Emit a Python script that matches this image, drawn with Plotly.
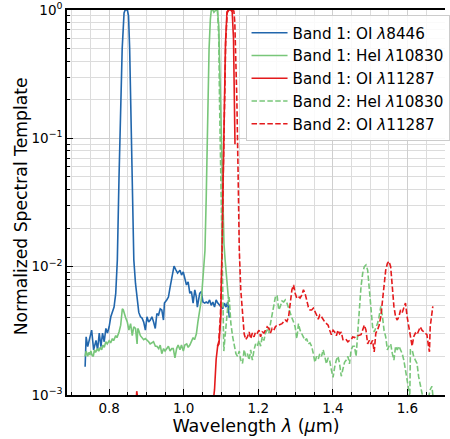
import plotly.graph_objects as go

# ---------------- data (wavelength in micron, normalized template) ----------------
lam_b1_oi8446 = [0.7356, 0.7383, 0.7425, 0.747, 0.7531, 0.7584, 0.7648, 0.769, 0.7735, 0.778,
                 0.7823, 0.7868, 0.7913, 0.7955, 0.8, 0.8045, 0.8087, 0.8132, 0.8177, 0.822,
                 0.8265, 0.831, 0.835, 0.840, 0.843, 0.849, 0.852, 0.855, 0.8575, 0.861,
                 0.8644, 0.8662, 0.8707, 0.8768, 0.8795, 0.884, 0.8882, 0.8927, 0.8972, 0.9015,
                 0.906, 0.9105, 0.9147, 0.9192, 0.9237, 0.928, 0.9325, 0.937, 0.9412, 0.9457,
                 0.9483, 0.9544, 0.959, 0.9634, 0.9677, 0.974, 0.9793, 0.9836, 0.99, 0.9942,
                 0.9987, 1.0032, 1.0074, 1.0119, 1.0164, 1.0207, 1.0252, 1.0297, 1.0339, 1.0366,
                 1.0429, 1.0472, 1.0517, 1.0562, 1.0604, 1.0649, 1.0694, 1.0737, 1.0781, 1.0826,
                 1.0869, 1.0914, 1.0959, 1.1001, 1.1046, 1.1091, 1.1134, 1.1179, 1.1224]
val_b1_oi8446 = [1.66e-3, 2.84e-3, 2.38e-3, 2.66e-3, 3.2e-3, 2.25e-3, 2.66e-3, 2.25e-3, 3.04e-3, 2.38e-3,
                 3.04e-3, 2.6e-3, 3.3e-3, 3.04e-3, 3.4e-3, 4.07e-3, 4.4e-3, 4.84e-3, 6.2e-3, 0.0113,
                 0.05, 0.2, 0.5, 0.95, 1.0, 1.0, 0.9, 0.5, 0.2, 0.07,
                 0.0135, 0.0113, 7.4e-3, 5.2e-3, 4.4e-3, 4.07e-3, 3.98e-3, 3.7e-3, 3.2e-3, 4.07e-3,
                 3.7e-3, 3.84e-3, 4.07e-3, 3.7e-3, 3.3e-3, 4.3e-3, 4.2e-3, 4.7e-3, 4.6e-3, 3.84e-3,
                 5.2e-3, 5.5e-3, 5.8e-3, 6.9e-3, 8.3e-3, 0.0101, 9.4e-3, 8.9e-3, 9.4e-3, 8.6e-3,
                 9.1e-3, 7.9e-3, 7.2e-3, 7.6e-3, 6.2e-3, 6.4e-3, 5.2e-3, 6.6e-3, 5.8e-3, 4.84e-3,
                 6.2e-3, 6.4e-3, 5.3e-3, 5.2e-3, 5.3e-3, 5.2e-3, 5.5e-3, 5.0e-3, 5.3e-3, 4.84e-3,
                 5.5e-3, 5.2e-3, 5.0e-3, 4.84e-3, 4.7e-3, 5.2e-3, 4.84e-3, 5.3e-3, 4.0e-3]

lam_b1_hei10830 = [0.7356, 0.7383, 0.7425, 0.7455, 0.748, 0.751, 0.754, 0.7575, 0.7605, 0.7635,
                   0.769, 0.772, 0.7765, 0.780, 0.7835, 0.787, 0.791, 0.795, 0.800, 0.804,
                   0.8087, 0.812, 0.8177, 0.821, 0.8265, 0.831, 0.8354, 0.838, 0.8443, 0.8487,
                   0.853, 0.8575, 0.862, 0.866, 0.8707, 0.875, 0.8768, 0.879, 0.8838, 0.888,
                   0.8927, 0.897, 0.901, 0.906, 0.910, 0.915, 0.919, 0.924, 0.928, 0.933,
                   0.937, 0.9412, 0.946, 0.950, 0.955, 0.959, 0.9634, 0.968, 0.972, 0.9765,
                   0.981, 0.985, 0.990, 0.994, 0.999, 1.003, 1.008, 1.012, 1.0164, 1.0207,
                   1.0252, 1.029, 1.034, 1.038, 1.0429, 1.0472, 1.0499, 1.0535, 1.057, 1.0604,
                   1.0649, 1.068, 1.0715, 1.074, 1.078, 1.081, 1.085, 1.0905, 1.094, 1.0965,
                   1.0985, 1.1015, 1.1046, 1.108, 1.111, 1.1145, 1.1179, 1.12, 1.1224]
val_b1_hei10830 = [2.0e-3, 2.2e-3, 2.0e-3, 2.15e-3, 2.05e-3, 2.2e-3, 2.05e-3, 2.0e-3, 2.25e-3, 2.15e-3,
                   2.3e-3, 2.2e-3, 2.35e-3, 2.25e-3, 2.45e-3, 2.35e-3, 2.6e-3, 2.5e-3, 2.65e-3, 2.55e-3,
                   2.75e-3, 2.65e-3, 2.9e-3, 2.8e-3, 3.1e-3, 3.5e-3, 4.7e-3, 4.6e-3, 4.0e-3, 3.7e-3,
                   3.2e-3, 3.6e-3, 2.9e-3, 3.4e-3, 3.3e-3, 2.5e-3, 3.3e-3, 3.2e-3, 2.9e-3, 2.8e-3,
                   2.7e-3, 2.75e-3, 2.7e-3, 2.6e-3, 2.5e-3, 2.55e-3, 2.6e-3, 2.4e-3, 2.4e-3, 2.3e-3,
                   2.45e-3, 2.1e-3, 2.3e-3, 2.2e-3, 2.3e-3, 2.4e-3, 2.2e-3, 2.3e-3, 2.3e-3, 1.95e-3,
                   2.3e-3, 2.45e-3, 2.25e-3, 2.45e-3, 2.2e-3, 2.45e-3, 2.5e-3, 2.35e-3, 2.45e-3, 2.6e-3,
                   2.8e-3, 2.7e-3, 3.0e-3, 3.7e-3, 4.5e-3, 5.5e-3, 7.0e-3, 9.4e-3, 0.0134, 0.035,
                   0.2, 0.5, 0.85, 1.0, 1.0, 0.96, 0.99, 1.0, 0.75, 0.4,
                   0.2, 0.07, 0.033, 0.015, 0.0113, 8.0e-3, 6.0e-3, 5.6e-3, 5.8e-3]

lam_b1_oi11287 = [0.868, 0.8725, 0.874, 0.8755, 0.880, 1.075, 1.0785, 1.0826, 1.087, 1.091,
                  1.0945, 1.0994, 1.102, 1.1055, 1.109, 1.112, 1.116, 1.12, 1.126, 1.13,
                  1.1335, 1.136, 1.1375]
val_b1_oi11287 = [5e-4, 1.0e-3, 1.07e-3, 1.0e-3, 5e-4, 7e-4, 9e-4, 1.1e-3, 1.9e-3, 2.4e-3,
                  2.5e-3, 4.0e-3, 0.0113, 0.05, 0.2, 0.55, 0.97, 1.0, 1.0, 0.97,
                  0.6, 0.2, 0.09]

lam_b2_hei10830 = [1.0905, 1.094, 1.096, 1.098, 1.1001, 1.1046, 1.1075, 1.1091, 1.1134, 1.1179,
                   1.1205, 1.1224, 1.1265, 1.1313, 1.1355, 1.14, 1.1444, 1.149, 1.153, 1.1576,
                   1.1621, 1.1664, 1.1709, 1.1754, 1.1796, 1.1841, 1.1886, 1.1928, 1.1974, 1.2019,
                   1.2061, 1.2106, 1.2151, 1.2193, 1.2238, 1.2283, 1.2326, 1.2371, 1.2416, 1.2458,
                   1.2503, 1.2548, 1.259, 1.2636, 1.2681, 1.2723, 1.2768, 1.2813, 1.2856, 1.2901,
                   1.2946, 1.2988, 1.3033, 1.3078, 1.312, 1.3166, 1.3211, 1.3253, 1.3298, 1.3343,
                   1.3386, 1.3431, 1.3476, 1.3518, 1.3563, 1.3608, 1.365, 1.3695, 1.374, 1.3783,
                   1.3828, 1.3873, 1.3915, 1.396, 1.4005, 1.4048, 1.4093, 1.4138, 1.418, 1.4225,
                   1.427, 1.4313, 1.4358, 1.4403, 1.4445, 1.449, 1.4535, 1.4578, 1.4623, 1.4668,
                   1.471, 1.4755, 1.48, 1.4843, 1.4888, 1.4933, 1.4975, 1.502, 1.5065, 1.5108,
                   1.5152, 1.5197, 1.524, 1.5285, 1.533, 1.5372, 1.5417, 1.5462, 1.5505, 1.555,
                   1.5595, 1.5637, 1.5682, 1.5727, 1.577, 1.5815, 1.586, 1.5902, 1.5947, 1.5992,
                   1.6035, 1.6062, 1.608, 1.6125, 1.6167, 1.6212, 1.6257, 1.63, 1.6344, 1.6389,
                   1.6432, 1.6477, 1.653, 1.661, 1.6656, 1.668]
val_b2_hei10830 = [1.0, 0.6, 0.2, 0.09, 0.033, 0.01, 2.2e-3, 2.5e-3, 3.6e-3, 5.5e-3,
                   5.8e-3, 5.5e-3, 3.6e-3, 2.84e-3, 2.4e-3, 2.1e-3, 2.0e-3, 2.2e-3, 1.87e-3, 1.76e-3,
                   2.25e-3, 2.0e-3, 2.1e-3, 1.87e-3, 2.25e-3, 1.87e-3, 2.25e-3, 2.5e-3, 2.4e-3, 2.66e-3,
                   2.4e-3, 2.84e-3, 2.66e-3, 3.04e-3, 3.2e-3, 3.04e-3, 3.6e-3, 4.3e-3, 5.2e-3, 5.8e-3,
                   6.0e-3, 4.6e-3, 4.9e-3, 5.4e-3, 5.3e-3, 5.5e-3, 5.2e-3, 4.7e-3, 4.4e-3, 4.0e-3,
                   3.7e-3, 3.4e-3, 2.75e-3, 3.6e-3, 3.2e-3, 3.0e-3, 2.85e-3, 2.66e-3, 2.75e-3, 2.5e-3,
                   2.55e-3, 2.4e-3, 2.1e-3, 1.8e-3, 2.0e-3, 1.9e-3, 2.1e-3, 2.0e-3, 2.25e-3, 2.0e-3,
                   1.75e-3, 1.95e-3, 1.85e-3, 1.57e-3, 1.37e-3, 1.65e-3, 1.87e-3, 2.0e-3, 1.75e-3, 1.4e-3,
                   1.56e-3, 1.8e-3, 1.87e-3, 2.0e-3, 1.75e-3, 2.25e-3, 2.4e-3, 2.4e-3, 2.0e-3, 2.84e-3,
                   4.6e-3, 7.0e-3, 8.9e-3, 0.01, 0.0103, 9.4e-3, 7.0e-3, 4.6e-3, 3.4e-3, 3.1e-3,
                   3.3e-3, 3.6e-3, 4.1e-3, 4.9e-3, 4.1e-3, 3.2e-3, 2.84e-3, 2.25e-3, 2.4e-3, 2.5e-3,
                   2.1e-3, 1.87e-3, 2.4e-3, 2.25e-3, 2.4e-3, 2.25e-3, 2.1e-3, 1.87e-3, 1.56e-3, 1.39e-3,
                   1.1e-3, 9.5e-4, 2.25e-3, 2.25e-3, 2.0e-3, 1.87e-3, 1.76e-3, 1.39e-3, 1.17e-3, 1.03e-3,
                   9e-4, 8.5e-4, 8.5e-4, 1.1e-3, 1.17e-3, 1.0e-3]

lam_b2_oi11287 = [1.0905, 1.094, 1.0985, 1.1025, 1.106, 1.1095, 1.1125, 1.1165, 1.121, 1.128,
                  1.1345, 1.137, 1.1395, 1.1425, 1.146, 1.149, 1.153, 1.1576, 1.1621, 1.1664,
                  1.1709, 1.1754, 1.1796, 1.1841, 1.1886, 1.1928, 1.1974, 1.2019, 1.2061, 1.2106,
                  1.2151, 1.2193, 1.2238, 1.2283, 1.2326, 1.2371, 1.2416, 1.2458, 1.2503, 1.2548,
                  1.2636, 1.2723, 1.2768, 1.2813, 1.2856, 1.2901, 1.2946, 1.2988, 1.3033, 1.3078,
                  1.312, 1.3166, 1.3211, 1.3253, 1.3298, 1.3343, 1.3386, 1.3431, 1.3476, 1.3518,
                  1.3563, 1.3608, 1.365, 1.3695, 1.374, 1.3783, 1.3828, 1.3873, 1.3915, 1.396,
                  1.4005, 1.4048, 1.4093, 1.4138, 1.418, 1.4225, 1.427, 1.4313, 1.4358, 1.4403,
                  1.4445, 1.449, 1.4535, 1.4578, 1.4668, 1.4755, 1.4843, 1.4888, 1.4933, 1.4975,
                  1.502, 1.5065, 1.5108, 1.5152, 1.5197, 1.524, 1.5285, 1.533, 1.5372, 1.5417,
                  1.5462, 1.5505, 1.555, 1.5595, 1.5637, 1.5682, 1.5727, 1.577, 1.5815, 1.586,
                  1.5902, 1.5947, 1.5992, 1.6035, 1.608, 1.6125, 1.6167, 1.6212, 1.6257, 1.63,
                  1.6344, 1.6389, 1.6432, 1.6477, 1.6522, 1.6565, 1.659, 1.661, 1.6656, 1.668]
val_b2_oi11287 = [2.4e-3, 2.6e-3, 4.2e-3, 0.0113, 0.05, 0.2, 0.55, 0.95, 1.0, 1.0,
                  0.98, 0.8, 0.45, 0.2, 0.05, 0.0135, 6.6e-3, 4.3e-3, 3.0e-3, 2.7e-3,
                  2.84e-3, 3.1e-3, 2.75e-3, 3.04e-3, 2.84e-3, 3.1e-3, 3.04e-3, 3.2e-3, 2.84e-3, 3.1e-3,
                  3.04e-3, 3.2e-3, 3.4e-3, 3.3e-3, 3.04e-3, 3.3e-3, 3.2e-3, 3.4e-3, 3.5e-3, 3.5e-3,
                  3.6e-3, 3.84e-3, 3.75e-3, 4.07e-3, 5.5e-3, 6.6e-3, 7.2e-3, 6.2e-3, 5.7e-3, 5.85e-3,
                  5.7e-3, 6.0e-3, 6.6e-3, 6.2e-3, 5.5e-3, 4.84e-3, 4.6e-3, 4.6e-3, 4.75e-3, 4.4e-3,
                  4.2e-3, 3.9e-3, 4.2e-3, 4.07e-3, 3.84e-3, 3.7e-3, 3.6e-3, 3.5e-3, 3.2e-3, 2.95e-3,
                  3.2e-3, 3.1e-3, 2.9e-3, 3.2e-3, 3.0e-3, 3.1e-3, 2.7e-3, 2.66e-3, 2.7e-3, 2.6e-3,
                  2.66e-3, 2.7e-3, 2.84e-3, 2.8e-3, 2.9e-3, 2.95e-3, 3.5e-3, 3.2e-3, 2.5e-3, 2.66e-3,
                  2.5e-3, 2.66e-3, 2.17e-3, 3.04e-3, 3.2e-3, 3.5e-3, 4.07e-3, 5.5e-3, 7.4e-3, 9.4e-3,
                  0.0106, 0.011, 0.01, 6.6e-3, 4.9e-3, 4.07e-3, 3.84e-3, 4.07e-3, 4.6e-3, 4.4e-3,
                  4.7e-3, 5.2e-3, 4.07e-3, 3.4e-3, 2.84e-3, 2.4e-3, 2.84e-3, 3.04e-3, 2.95e-3, 3.2e-3,
                  3.4e-3, 3.2e-3, 3.1e-3, 3.04e-3, 2.95e-3, 2.4e-3, 2.17e-3, 3.4e-3, 4.6e-3, 4.9e-3]

series_names = ["Band 1: OI <i>λ</i>8446", "Band 1: HeI <i>λ</i>10830", "Band 1: OI <i>λ</i>11287",
                "Band 2: HeI <i>λ</i>10830", "Band 2: OI <i>λ</i>11287"]

ytick_vals = [1e-3, 1e-2, 1e-1, 1]
ytick_text = ["10<sup>−3</sup>", "10<sup>−2</sup>", "10<sup>−1</sup>", "10<sup>0</sup>"]

# ---------------- styling ----------------
BLUE = "#2166ac"
GREEN = "#78c679"
RED = "#e41a1c"
FONT = "DejaVu Sans"
DASH = "5.5px,2.4px"

series = [
    (lam_b1_oi8446, val_b1_oi8446, BLUE, "solid"),
    (lam_b1_hei10830, val_b1_hei10830, GREEN, "solid"),
    (lam_b1_oi11287, val_b1_oi11287, RED, "solid"),
    (lam_b2_hei10830, val_b2_hei10830, GREEN, DASH),
    (lam_b2_oi11287, val_b2_oi11287, RED, DASH),
]

fig = go.Figure()
for (x, y, c, d), name in zip(series, series_names):
    fig.add_trace(go.Scatter(x=x, y=y, mode="lines", name=name,
                             line=dict(color=c, width=1.6, dash=d)))

minor_y = [m * 10 ** e for e in range(-3, 0) for m in range(2, 10)]

fig.update_layout(
    width=450, height=439,
    margin=dict(l=67, r=0, t=10, b=44),
    paper_bgcolor="white", plot_bgcolor="white",
    font=dict(family=FONT, size=13, color="black"),
    showlegend=True,
    legend=dict(x=1.012, y=0.986, xanchor="right", yanchor="top",
                bgcolor="rgba(255,255,255,0.85)", bordercolor="#cccccc", borderwidth=1,
                font=dict(family=FONT, size=15.2, color="black"),
                tracegroupgap=0, itemwidth=36),
    xaxis=dict(range=[0.687, 1.7007], showgrid=True, gridcolor="#cfcfcf", gridwidth=1,
               dtick=0.2, tick0=0, tickformat=".1f",
               ticks="inside", ticklen=6, tickwidth=1.2, tickcolor="black",
               showline=True, linecolor="black", linewidth=1.5, mirror=True,
               minor=dict(dtick=0.05, tick0=0, ticks="inside", ticklen=3.5, tickcolor="black",
                          showgrid=True, gridcolor="#dcdcdc", gridwidth=1),
               zeroline=False,
               title=dict(text="Wavelength <i>λ</i> (<i>μ</i>m)", font=dict(size=17.5), standoff=4),
               tickfont=dict(size=13.5)),
    yaxis=dict(type="log", range=[-3, 0], showgrid=True, gridcolor="#cfcfcf", gridwidth=1,
               tickmode="array", tickvals=ytick_vals, ticktext=ytick_text,
               ticks="inside", ticklen=6, tickwidth=1.2, tickcolor="black",
               showline=True, linecolor="black", linewidth=1.5, mirror=False,
               minor=dict(tickmode="array", tickvals=minor_y, ticks="inside", ticklen=3.5,
                          tickcolor="black", showgrid=True, gridcolor="#dcdcdc", gridwidth=1),
               zeroline=False,
               tickfont=dict(size=13.5)),
    annotations=[dict(text="Normalized Spectral Template", textangle=-90,
                      xref="paper", yref="paper", x=-0.122, y=0.49,
                      xanchor="center", yanchor="middle", showarrow=False,
                      font=dict(family=FONT, size=17.2, color="black"))],
)

fig.write_html("out.html")
